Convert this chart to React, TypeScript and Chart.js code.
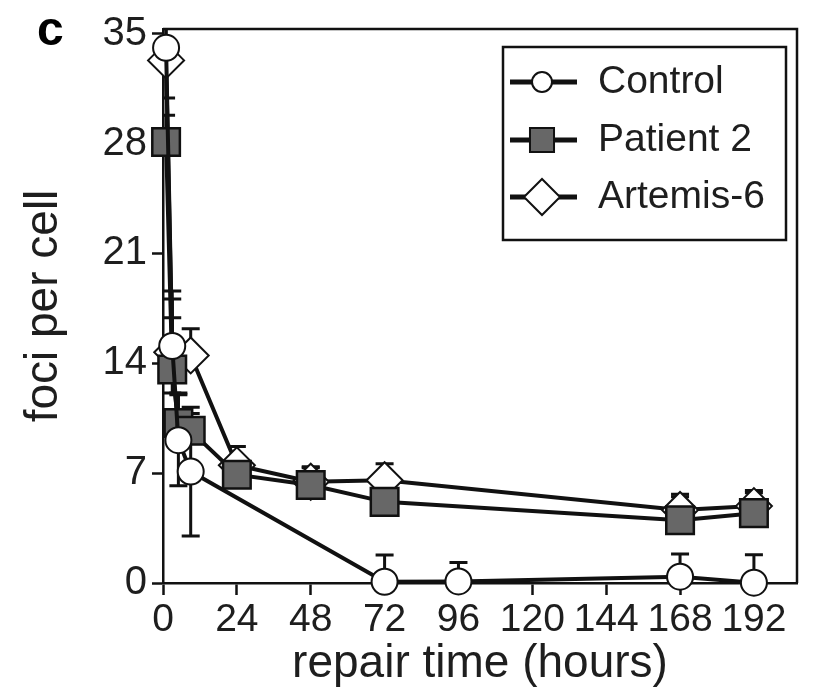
import React, { useEffect, useRef } from "react";
import { Chart, registerables } from "chart.js";

Chart.register(...registerables);

// ---- data ----
const seriesLabels = ["Control", "Patient 2", "Artemis-6"];

const controlTimes = [1, 3, 5, 9, 72, 96, 168, 192];
const controlMeans = [34.1, 15.1, 9.1, 7.1, 0.08, 0.1, 0.4, 0.02];
const controlErrors = [3.2, 3.0, 2.9, 4.1, 1.7, 1.2, 1.45, 1.78];

const patientTimes = [1, 3, 5, 9, 24, 48, 72, 168, 192];
const patientMeans = [28.1, 13.6, 10.2, 9.7, 6.9, 6.24, 5.17, 4.0, 4.45];
const patientErrors = [1.7, 3.3, 1.9, 1.1, 0.9, 1.1, 1.0, 1.5, 1.3];

const artemisTimes = [1, 3, 9, 24, 48, 72, 168, 192];
const artemisMeans = [33.3, 14.7, 14.5, 7.5, 6.45, 6.55, 4.65, 4.9];
const artemisErrors = [3.5, 3.9, 1.7, 1.2, 0.95, 1.05, 1.0, 1.0];

// which series show the lower half of their error bars
const showLowerError = [true, false, false];

const xTickStep = 24;
const yTickStep = 7;
const xTitle = "repair time (hours)";
const yTitle = "foci per cell";
const panelLabel = "c";

const FONT = '"Liberation Sans", Arial, Helvetica, sans-serif';
const INK = "#111";
const TEXT = "#1e1e1e";

const toPoints = (t: number[], v: number[]) => t.map((x, i) => ({ x, y: v[i] }));
const errorsByDataset = [controlErrors, patientErrors, artemisErrors];

const frameAndErrors = {
  id: "frameAndErrors",
  beforeDatasetsDraw(chart: any) {
    const { ctx, chartArea } = chart;
    const xs = chart.scales.x;
    const ys = chart.scales.y;
    ctx.save();
    ctx.strokeStyle = INK;
    ctx.lineWidth = 2.5;
    ctx.beginPath();
    ctx.moveTo(chartArea.left, chartArea.top);
    ctx.lineTo(chartArea.right, chartArea.top);
    ctx.lineTo(chartArea.right, chartArea.bottom);
    ctx.stroke();
    ctx.beginPath();
    ctx.rect(chartArea.left, chartArea.top, chartArea.right - chartArea.left, chartArea.bottom - chartArea.top);
    ctx.clip();
    ctx.lineWidth = 3;
    chart.data.datasets.forEach((ds: any, di: number) => {
      const errs = errorsByDataset[di];
      ds.data.forEach((p: any, i: number) => {
        const e = errs[i];
        const x = xs.getPixelForValue(p.x);
        const yc = ys.getPixelForValue(p.y);
        const yt = ys.getPixelForValue(p.y + e);
        const yb = showLowerError[di] ? ys.getPixelForValue(p.y - e) : yc;
        ctx.beginPath();
        ctx.moveTo(x, yt);
        ctx.lineTo(x, yb);
        ctx.moveTo(x - 9, yt);
        ctx.lineTo(x + 9, yt);
        if (showLowerError[di]) {
          ctx.moveTo(x - 9, yb);
          ctx.lineTo(x + 9, yb);
        }
        ctx.stroke();
      });
    });
    ctx.restore();
  },
};

function drawMarker(ctx: CanvasRenderingContext2D, style: string, x: number, y: number, r: number, fill: string, bw: number) {
  ctx.beginPath();
  if (style === "circle") {
    ctx.arc(x, y, r, 0, Math.PI * 2);
  } else if (style === "rect") {
    const s = Math.SQRT1_2 * r;
    ctx.rect(x - s, y - s, 2 * s, 2 * s);
  } else {
    ctx.moveTo(x - r, y);
    ctx.lineTo(x, y - r);
    ctx.lineTo(x + r, y);
    ctx.lineTo(x, y + r);
    ctx.closePath();
  }
  ctx.fillStyle = fill;
  ctx.fill();
  ctx.lineWidth = bw;
  ctx.strokeStyle = INK;
  ctx.stroke();
}

const legendAndLabel = {
  id: "legendAndLabel",
  afterDraw(chart: any) {
    const { ctx } = chart;
    ctx.save();
    const bx = 503, by = 47, bw = 283, bh = 193;
    ctx.fillStyle = "#fff";
    ctx.fillRect(bx, by, bw, bh);
    ctx.strokeStyle = INK;
    ctx.lineWidth = 2.5;
    ctx.strokeRect(bx, by, bw, bh);
    const rows = [82, 140, 197];
    const legendR = [10, 17, 18];
    chart.data.datasets.forEach((ds: any, i: number) => {
      const y = rows[i];
      ctx.strokeStyle = INK;
      ctx.lineWidth = 5;
      ctx.beginPath();
      ctx.moveTo(510, y);
      ctx.lineTo(577, y);
      ctx.stroke();
      drawMarker(ctx, ds.pointStyle, 542, y, legendR[i], ds.pointBackgroundColor, 2);
      ctx.fillStyle = TEXT;
      ctx.font = `39px ${FONT}`;
      ctx.textAlign = "left";
      ctx.textBaseline = "middle";
      ctx.fillText(ds.label, 598, y);
    });
    ctx.fillStyle = "#000";
    ctx.font = `bold 48px ${FONT}`;
    ctx.textAlign = "left";
    ctx.textBaseline = "alphabetic";
    ctx.fillText(panelLabel, 37, 45);
    ctx.restore();
  },
};

export default function App() {
  const ref = useRef<HTMLCanvasElement>(null);
  useEffect(() => {
    if (!ref.current) return;
    const common = {
      borderColor: INK,
      borderWidth: 4,
      pointBorderColor: INK,
      tension: 0,
      fill: false,
      clip: false as any,
    };
    const chart = new Chart(ref.current, {
      type: "line",
      data: {
        datasets: [
          {
            ...common,
            label: seriesLabels[0],
            data: toPoints(controlTimes, controlMeans),
            pointStyle: "circle",
            pointRadius: 13,
            pointBackgroundColor: "#ffffff",
            pointBorderWidth: 2,
          },
          {
            ...common,
            label: seriesLabels[1],
            data: toPoints(patientTimes, patientMeans),
            pointStyle: "rect",
            pointRadius: 19.5,
            pointBackgroundColor: "#676767",
            pointBorderWidth: 2.5,
          },
          {
            ...common,
            label: seriesLabels[2],
            data: toPoints(artemisTimes, artemisMeans),
            pointStyle: "rectRot",
            pointRadius: 18,
            pointBackgroundColor: "#ffffff",
            pointBorderWidth: 2,
          },
        ] as any,
      },
      options: {
        animation: false,
        responsive: false,
        events: [],
        layout: { padding: { left: 0, top: 28, right: 7, bottom: 0 } },
        plugins: { legend: { display: false }, tooltip: { enabled: false } },
        scales: {
          x: {
            type: "linear",
            min: 0,
            max: 206,
            grid: { drawOnChartArea: false, drawTicks: true, tickLength: 12, tickWidth: 2.5, tickColor: INK },
            border: { display: true, color: INK, width: 2.5 },
            ticks: {
              stepSize: xTickStep,
              includeBounds: false,
              autoSkip: false,
              maxRotation: 0,
              color: TEXT,
              padding: 2,
              font: { family: FONT, size: 39 },
            },
            title: {
              display: true,
              text: xTitle,
              color: TEXT,
              font: { family: FONT, size: 46 },
              padding: { top: 0, bottom: 7 },
            },
            afterFit: (s: any) => {
              s.height = 116;
            },
          },
          y: {
            type: "linear",
            min: 0,
            max: 35.3,
            grid: { drawOnChartArea: false, drawTicks: true, tickLength: 11, tickWidth: 2.5, tickColor: INK },
            border: { display: true, color: INK, width: 2.5 },
            ticks: {
              stepSize: yTickStep,
              includeBounds: false,
              color: TEXT,
              padding: 5,
              font: { family: FONT, size: 40 },
            },
            title: {
              display: true,
              text: yTitle,
              color: TEXT,
              font: { family: FONT, size: 46 },
              padding: { top: 17, bottom: 0 },
            },
            afterFit: (s: any) => {
              s.width = 163;
            },
          },
        },
      } as any,
      plugins: [frameAndErrors, legendAndLabel],
    });
    return () => chart.destroy();
  }, []);
  return (
    <div style={{ position: "fixed", left: 0, top: 0, width: 819, height: 699, background: "#fff" }}>
      <canvas ref={ref} width={819} height={699} style={{ display: "block" }} />
    </div>
  );
}
